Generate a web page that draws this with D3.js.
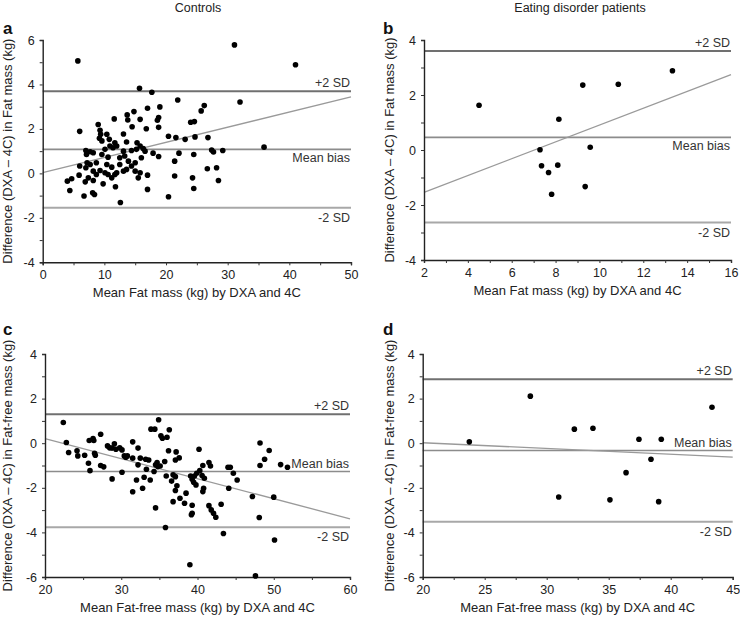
<!DOCTYPE html>
<html><head><meta charset="utf-8">
<script src="https://cdn.jsdelivr.net/npm/d3@7/dist/d3.min.js"></script>
<style>
html,body{margin:0;padding:0;background:#fff;}
svg text{font-family:"Liberation Sans",Arial,sans-serif;fill:#222;}
</style></head>
<body><svg id="chart" width="740" height="617"></svg>
<script>
// ---------- DATA ----------
const columnTitles = ["Controls", "Eating disorder patients"];
const panelLetters = ["a", "b", "c", "d"];
const xTitles = ["Mean Fat mass (kg) by DXA and 4C", "Mean Fat mass (kg) by DXA and 4C",
                 "Mean Fat-free mass (kg) by DXA and 4C", "Mean Fat-free mass (kg) by DXA and 4C"];
const yTitles = ["Difference (DXA \u2013 4C) in Fat mass (kg)", "Difference (DXA \u2013 4C) in Fat mass (kg)",
                 "Difference (DXA \u2013 4C) in Fat-free mass (kg)", "Difference (DXA \u2013 4C) in Fat-free mass (kg)"];
const limitLabels = ["+2 SD", "Mean bias", "-2 SD"];

// Panel a: controls, fat mass  [mean, difference]
const controlsFat = [[31.1,5.78],[41.0,4.89],[5.7,5.06],[15.7,3.83],[17.7,3.65],[32.0,3.21],[21.9,3.30],[26.2,3.05],[25.7,2.81],[17.0,2.93],[19.0,2.99],[14.8,2.78],[13.7,2.63],[11.6,2.45],[13.8,2.40],[15.8,2.43],[18.8,2.51],[18.6,2.39],[24.0,2.30],[24.6,2.33],[14.5,2.10],[16.8,2.01],[18.8,2.07],[6.0,1.89],[9.3,1.94],[9.4,1.76],[13.1,1.77],[20.4,1.67],[21.6,1.61],[23.1,1.53],[24.7,1.64],[26.8,1.61],[9.2,1.58],[9.6,1.46],[10.8,1.53],[11.7,1.38],[13.6,1.41],[15.3,1.38],[15.8,1.23],[35.9,1.18],[29.2,1.03],[27.4,1.05],[27.7,0.96],[24.5,0.85],[22.1,0.91],[17.9,0.91],[18.8,0.76],[7.0,1.03],[7.7,0.97],[8.2,0.93],[7.1,0.85],[9.6,0.85],[10.6,0.73],[11.4,1.15],[13.1,1.00],[13.3,0.78],[14.4,1.03],[15.2,1.08],[16.3,1.12],[16.6,1.00],[12.5,0.70],[6.0,0.33],[4.0,-0.35],[4.7,-0.24],[4.4,-0.77],[5.9,-0.08],[7.0,0.25],[7.7,0.40],[8.2,0.10],[7.4,-0.20],[6.9,-0.38],[8.2,-0.32],[8.7,-0.05],[9.3,0.13],[10.1,0.03],[9.8,-0.47],[10.6,-0.05],[11.2,-0.20],[11.7,-0.05],[12.0,0.03],[12.5,0.40],[13.1,0.10],[13.6,0.18],[14.4,0.33],[15.0,0.10],[15.5,-0.20],[15.8,0.03],[17.0,-0.08],[17.0,-0.72],[11.8,-0.60],[12.6,-1.31],[6.7,-1.02],[8.1,-0.87],[8.4,-0.95],[20.4,-1.05],[21.4,0.55],[21.4,-0.12],[24.3,-0.20],[24.5,-0.68],[26.7,0.21],[28.2,0.25],[28.5,-0.32],[10.1,1.08],[10.9,1.23],[12.0,1.23],[7.2,0.48],[8.7,0.48],[10.4,0.40],[11.2,0.28],[13.9,0.55],[15.0,0.48],[16.0,0.70],[9.0,2.2],[10.4,1.76]];
const limitsA = [3.69, 1.08, -1.55];
const regressionA = [[0, 0.03], [50, 3.44]];

// Panel b: patients, fat mass
const patientsFat = [[4.51,1.63],[9.24,2.36],[10.86,2.39],[13.33,2.88],[8.15,1.12],[7.29,0.01],[9.58,0.10],[7.36,-0.57],[8.10,-0.55],[7.68,-0.82],[7.82,-1.61],[9.35,-1.33]];
const limitsB = [3.6, 0.46, -2.64];
const regressionB = [[2, -1.54], [16, 2.74]];

// Panel c: controls, fat-free mass
const controlsFFM = [[22.4,0.93],[22.8,0.03],[23.1,-0.42],[24.2,-0.34],[24.3,-0.57],[25.2,-0.54],[25.7,-0.90],[25.9,-1.23],[25.8,0.12],[26.3,0.21],[26.4,0.12],[27.3,0.40],[26.5,-0.45],[26.6,-0.54],[27.3,-1.00],[27.7,-1.06],[28.2,-0.12],[28.5,-0.21],[28.8,-0.22],[29.1,-0.03],[29.3,-0.27],[29.8,-0.21],[30.1,-0.30],[28.8,-1.60],[30.1,-1.30],[30.4,-0.57],[30.6,-0.63],[30.8,-0.57],[31.5,0.06],[32.2,-0.22],[31.5,-0.67],[32.2,-0.97],[31.5,-2.18],[32.0,-1.65],[32.8,-2.02],[33.0,-1.53],[33.8,-1.65],[32.5,-0.67],[33.2,-0.72],[33.6,-0.75],[33.3,-1.17],[33.9,0.63],[34.4,0.63],[34.9,1.05],[35.2,0.33],[35.4,0.22],[36.0,0.27],[36.3,0.60],[34.5,-0.97],[34.7,-0.87],[34.3,-1.27],[34.8,-1.05],[35.1,-1.02],[35.7,-0.82],[36.2,-0.34],[37.2,-0.39],[37.1,-0.75],[37.6,-0.66],[35.9,-1.47],[36.6,-1.70],[36.8,-1.42],[37.1,-1.50],[37.3,-1.91],[37.1,-2.12],[36.8,-2.62],[37.7,-2.47],[38.3,-2.69],[38.5,-2.24],[34.5,-2.90],[35.8,-3.78],[39.1,-1.47],[39.3,-1.62],[39.5,-1.75],[39.6,-1.47],[39.8,-1.87],[39.9,-1.35],[40.3,-1.23],[40.6,-1.45],[40.9,-1.57],[40.2,-0.27],[40.7,-1.00],[41.5,-0.87],[41.7,-1.02],[40.7,-2.17],[40.8,-2.02],[41.5,-2.80],[41.8,-2.99],[42.1,-3.14],[42.4,-3.32],[39.3,-2.78],[39.2,-3.21],[39.3,-3.14],[43.1,-2.74],[43.4,-4.05],[44.0,-1.08],[44.3,-1.08],[44.7,-1.35],[45.2,-1.65],[44.1,-2.02],[47.2,-2.39],[48.1,-3.33],[48.2,-1.00],[48.8,-0.72],[48.2,0.01],[49.4,-0.33],[50.0,-2.42],[50.9,-0.96],[51.8,-1.08],[50.1,-4.34],[39.0,-5.45],[47.6,-5.95]];
const limitsC = [1.30, -1.27, -3.77];
const regressionC = [[20, 0.21], [60, -3.39]];

// Panel d: patients, fat-free mass
const patientsFFM = [[23.76,0.06],[28.68,2.11],[32.23,0.63],[33.73,0.67],[37.44,0.18],[39.24,0.18],[43.33,1.61],[38.41,-0.72],[36.40,-1.32],[30.97,-2.41],[35.10,-2.54],[39.03,-2.62]];
const limitsD = [2.87, -0.33, -3.52];
const regressionD = [[20, 0.02], [45, -0.62]];

// Axis ticks (value, labelled?)
const xTicksA = [0,5,10,15,20,25,30,35,40,45,50], xLabelsA = [0,10,20,30,40,50];
const xTicksB = [2,3,4,5,6,7,8,9,10,11,12,13,14,15,16], xLabelsB = [2,4,6,8,10,12,14,16];
const xTicksC = [20,25,30,35,40,45,50,55,60], xLabelsC = [20,30,40,50,60];
const xTicksD = [20,22.5,25,27.5,30,32.5,35,37.5,40,42.5,45], xLabelsD = [20,25,30,35,40,45];
const yTicksAB = [-4,-3,-2,-1,0,1,2,3,4,5,6], yLabelsA = [-4,-2,0,2,4,6];
const yTicksB = [-4,-3,-2,-1,0,1,2,3,4], yLabelsB = [-4,-2,0,2,4];
const yTicksCD = [-6,-5,-4,-3,-2,-1,0,1,2,3,4], yLabelsCD = [-6,-4,-2,0,2,4];

// ---------- LAYOUT ----------
const panels = [
  {pts: controlsFat, lim: limitsA, reg: regressionA, xd:[0,50], yd:[-4,6], xr:[42.7,351], yr:[262.3,40],
   xt:xTicksA, xl:xLabelsA, yt:yTicksAB, yl:yLabelsA, meanAbove:false, lx:3, ly:34, ytx:12},
  {pts: patientsFat, lim: limitsB, reg: regressionB, xd:[2,16], yd:[-4,4], xr:[424,731], yr:[260,40],
   xt:xTicksB, xl:xLabelsB, yt:yTicksB, yl:yLabelsB, meanAbove:false, lx:383, ly:34, ytx:394},
  {pts: controlsFFM, lim: limitsC, reg: regressionC, xd:[20,60], yd:[-6,4], xr:[45,350], yr:[577,354],
   xt:xTicksC, xl:xLabelsC, yt:yTicksCD, yl:yLabelsCD, meanAbove:true, lx:3, ly:335, ytx:12},
  {pts: patientsFFM, lim: limitsD, reg: regressionD, xd:[20,45], yd:[-6,4], xr:[422.7,732.7], yr:[577,354],
   xt:xTicksD, xl:xLabelsD, yt:yTicksCD, yl:yLabelsCD, meanAbove:true, lx:383, ly:335, ytx:394}
];

const svg = d3.select("#chart");

svg.append("text").attr("x", 198).attr("y", 12).attr("text-anchor","middle")
  .style("font-size","12.5px").text(columnTitles[0]);
svg.append("text").attr("x", 580).attr("y", 12).attr("text-anchor","middle")
  .style("font-size","12.5px").text(columnTitles[1]);

panels.forEach((p, i) => {
  const x = d3.scaleLinear().domain(p.xd).range(p.xr);
  const y = d3.scaleLinear().domain(p.yd).range(p.yr);
  const g = svg.append("g");

  // panel letter
  g.append("text").attr("x", p.lx).attr("y", p.ly)
    .style("font-size","17px").style("font-weight","bold").style("fill","#111").text(panelLetters[i]);

  // limit lines
  const limStyles = [{c:"#707070", w:2}, {c:"#8c8c8c", w:1.6}, {c:"#a8a8a8", w:2}];
  p.lim.forEach((v, k) => {
    g.append("line").attr("x1", p.xr[0]).attr("x2", p.xr[1])
      .attr("y1", y(v)).attr("y2", y(v))
      .attr("stroke", limStyles[k].c).attr("stroke-width", limStyles[k].w);
    let ty;
    if (k === 0) ty = y(v) - 4;
    else if (k === 1) ty = p.meanAbove ? y(v) - 4 : y(v) + 13;
    else ty = y(v) + 14;
    g.append("text").attr("x", p.xr[1] - 1).attr("y", ty).attr("text-anchor","end")
      .style("font-size","12.5px").style("fill","#333").text(limitLabels[k]);
  });

  // regression line
  g.append("line")
    .attr("x1", x(p.reg[0][0])).attr("y1", y(p.reg[0][1]))
    .attr("x2", x(p.reg[1][0])).attr("y2", y(p.reg[1][1]))
    .attr("stroke", "#9a9a9a").attr("stroke-width", 1.3);

  // axes
  const xAxis = d3.axisBottom(x).tickValues(p.xt).tickSize(3).tickPadding(5)
    .tickFormat(d => p.xl.includes(d) ? String(d) : "");
  const yAxis = d3.axisLeft(y).tickValues(p.yt).tickSize(3).tickPadding(5)
    .tickFormat(d => p.yl.includes(d) ? String(d) : "");
  const gx = g.append("g").attr("transform", `translate(0,${p.yr[0]})`).call(xAxis);
  const gy = g.append("g").attr("transform", `translate(${p.xr[0]},0)`).call(yAxis);
  [gx, gy].forEach(a => {
    a.select(".domain").attr("stroke","#222").attr("stroke-width",1.4);
    a.selectAll(".tick line").attr("stroke","#333").attr("stroke-width",1);
    a.selectAll("text").style("font-size","12.5px").style("font-family","Liberation Sans, Arial, sans-serif").attr("fill","#222");
  });

  // axis titles
  g.append("text").attr("x", (p.xr[0] + p.xr[1]) / 2).attr("y", p.yr[0] + 35)
    .attr("text-anchor","middle").style("font-size","13px").text(xTitles[i]);
  g.append("text")
    .attr("transform", `translate(${p.ytx},${(p.yr[0] + p.yr[1]) / 2}) rotate(-90)`)
    .attr("text-anchor","middle").style("font-size","13px").text(yTitles[i]);

  // points
  g.selectAll("circle").data(p.pts).join("circle")
    .attr("cx", d => x(d[0])).attr("cy", d => y(d[1])).attr("r", 2.8).attr("fill","#000");
});
</script></body></html>
